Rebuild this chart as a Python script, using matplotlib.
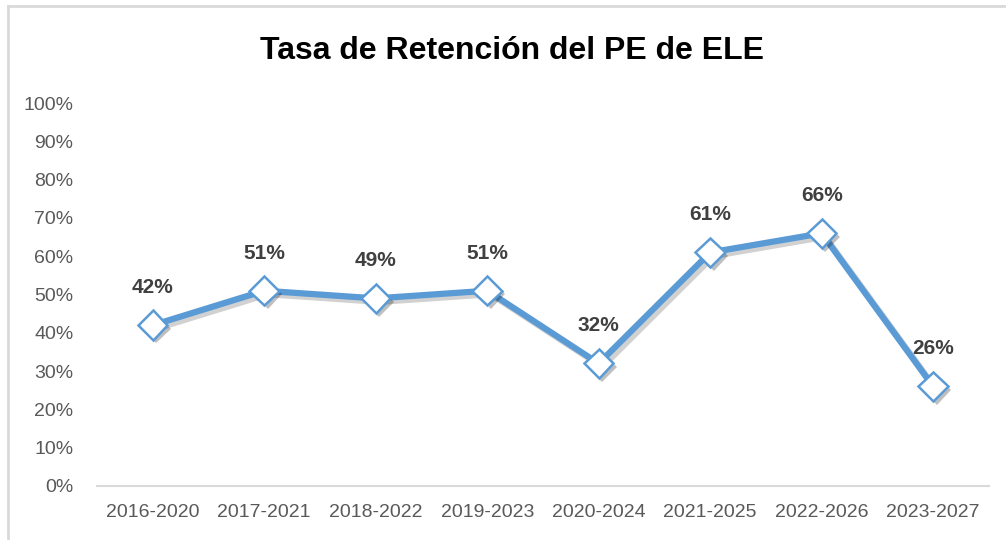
import matplotlib.pyplot as plt
import matplotlib.patheffects as pe
from matplotlib.lines import Line2D

periods = ['2016-2020', '2017-2021', '2018-2022', '2019-2023',
           '2020-2024', '2021-2025', '2022-2026', '2023-2027']
retention = [0.42, 0.51, 0.49, 0.51, 0.32, 0.61, 0.66, 0.26]
y_ticks = [i / 10 for i in range(11)]

plt.rcParams['font.family'] = ['Liberation Sans Narrow', 'Liberation Sans', 'DejaVu Sans']

fig = plt.figure(figsize=(10.06, 5.40), dpi=100)
ax = fig.add_axes([0.0964, 0.1, 0.8866, 0.709])

blue = '#5B9BD5'
x = list(range(len(periods)))

# line with a soft drop shadow
ax.plot(x, retention, color=blue, linewidth=4.5, solid_capstyle='round',
        path_effects=[pe.SimpleLineShadow(offset=(2.5, -2.5), shadow_color='black', alpha=0.18),
                      pe.Normal()], zorder=3)
# white diamond markers
ax.plot(x, retention, linestyle='none', marker='D', markersize=15,
        markerfacecolor='white', markeredgecolor=blue, markeredgewidth=1.8,
        path_effects=[pe.SimplePatchShadow(offset=(2.5, -2.5), shadow_rgbFace='black', alpha=0.25),
                      pe.Normal()], zorder=4)

for i, v in enumerate(retention):
    ax.annotate(f'{round(v * 100)}%', (i, v), xytext=(0, 27), textcoords='offset points',
                ha='center', va='center', fontsize=15, fontweight='bold', color='#404040')

ax.set_xlim(-0.5, len(periods) - 0.5)
ax.set_ylim(0, 1)
ax.set_yticks(y_ticks)
ax.set_yticklabels([f'{int(round(t * 100))}%' for t in y_ticks])
ax.set_xticks(x)
ax.set_xticklabels(periods)
ax.tick_params(axis='both', length=0, labelsize=14, labelcolor='#595959')
ax.tick_params(axis='y', pad=17)
ax.tick_params(axis='x', pad=13)

for s in ['top', 'right', 'left']:
    ax.spines[s].set_visible(False)
ax.spines['bottom'].set_color('#D9D9D9')
ax.spines['bottom'].set_linewidth(1.5)

fig.text(0.509, 0.905, 'Tasa de Retención del PE de ELE', ha='center', va='center',
         fontsize=23, fontweight='bold', color='black')

# chart frame (only left and top edges are visible in the crop)
fig.add_artist(Line2D([0.0075, 0.0075], [0.0, 0.988], color='#D9D9D9', linewidth=2,
                      transform=fig.transFigure))
fig.add_artist(Line2D([0.0075, 1.0], [0.988, 0.988], color='#D9D9D9', linewidth=2,
                      transform=fig.transFigure))

fig.savefig('out.png', dpi=100)
